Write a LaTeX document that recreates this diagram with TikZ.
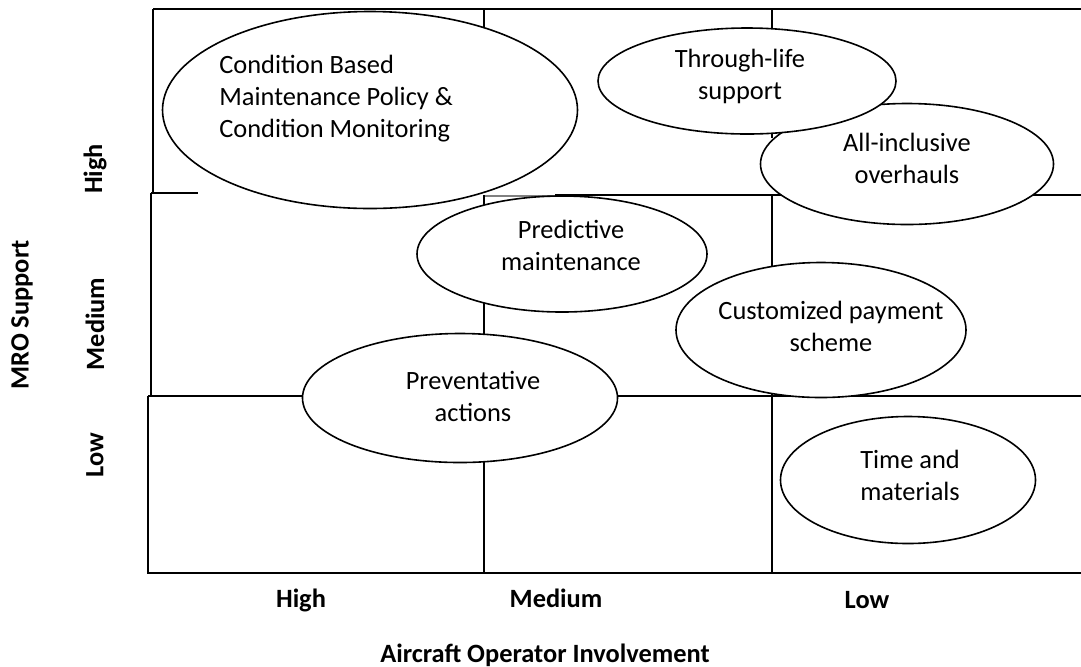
\documentclass[tikz,border=0pt]{standalone}
\usepackage{fontspec}
\setmainfont{Carlito}
\usetikzlibrary{shapes.geometric}
\tikzset{
    gridline/.style={line width=1.1pt},
    oval/.style={ellipse, draw, line width=0.8pt, fill=white, inner sep=0pt},
    ovaltext/.style={align=center, inner sep=0pt, font=\fontsize{13.2}{16}\selectfont},
    axislabel/.style={inner sep=0pt, font=\fontsize{13.2}{16}\selectfont\bfseries}
}
\begin{document}
\begin{tikzpicture}[x=0.5pt, y=-0.5pt]
    \useasboundingbox (0,0) rectangle (1081,666);

    % grid
    \draw[gridline] (153,9) -- (1081,9);
    \draw[gridline] (153,9) -- (153,193);
    \draw[gridline] (151,193) -- (198,193);
    \draw[gridline, gray] (484,196) -- (555,196);
    \draw[gridline] (555,195) -- (1081,195);
    \draw[gridline] (151,193) -- (151,396);
    \draw[gridline] (148,396) -- (1081,396);
    \draw[gridline] (148,396) -- (148,573) -- (1081,573);
    \draw[gridline] (484,9) -- (484,38);
    \draw[gridline] (484,195) -- (484,573);
    \draw[gridline] (772,9) -- (772,138);
    \draw[gridline] (772,195) -- (772,573);

    % ellipses
    \node[oval, minimum width=207.5pt, minimum height=98.5pt] (cbm) at (370,110) {};
    \node[oval, minimum width=146.5pt, minimum height=60.5pt] (aio) at (907,164) {};
    \node[oval, minimum width=149pt, minimum height=53pt] (tls) at (747,81) {};
    \node[oval, minimum width=145pt, minimum height=58pt] (pdm) at (562,254) {};
    \node[oval, minimum width=145pt, minimum height=67.5pt] (cps) at (821,330) {};
    \node[oval, minimum width=157.5pt, minimum height=64.5pt] (pva) at (460,398) {};
    \node[oval, minimum width=127.5pt, minimum height=63.5pt] (tam) at (908,480) {};

    % texts
    \node[ovaltext, align=left, anchor=west] (cbmtext) at (219,99) {Condition Based\\Maintenance Policy \&\\Condition Monitoring};
    \node[ovaltext] (tlstext) at (740,76) {Through-life\\support};
    \node[ovaltext] (aiotext) at (907,158) {All-inclusive\\overhauls};
    \node[ovaltext] (pdmtext) at (571,245) {Predictive\\maintenance};
    \node[ovaltext] (cpstext) at (831,326) {Customized payment\\scheme};
    \node[ovaltext] (pvatext) at (473,396) {Preventative\\actions};
    \node[ovaltext] (tamtext) at (910,475) {Time and\\materials};

    % axes
    \node[axislabel, rotate=90] (ytitle) at (22,315) {MRO Support};
    \node[axislabel, rotate=90] (yhigh) at (95,169) {High};
    \node[axislabel, rotate=90] (ymed) at (95,324) {Medium};
    \node[axislabel, rotate=90] (ylow) at (95,455) {Low};
    \node[axislabel] (xhigh) at (301,600) {High};
    \node[axislabel] (xmed) at (556,598) {Medium};
    \node[axislabel] (xlow) at (867,600) {Low};
    \node[axislabel] (xtitle) at (545,655) {Aircraft Operator Involvement};
\end{tikzpicture}
\end{document}
